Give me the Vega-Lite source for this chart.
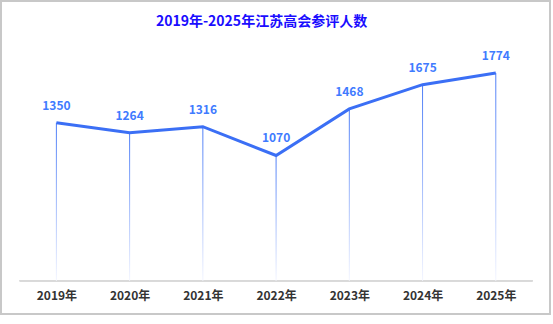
{
  "$schema": "https://vega.github.io/schema/vega-lite/v6.json",
  "autosize": {"type": "none"},
  "padding": {"left": 1, "top": 1, "right": 3, "bottom": 9},
  "width": 549,
  "height": 313,
  "background": "white",
  "title": {
    "text": "2019年-2025年江苏高会参评人数",
    "color": "#1a0dff",
    "font": "Noto Sans CJK SC",
    "fontSize": 14,
    "fontWeight": "bold",
    "anchor": "middle",
    "frame": "group",
    "offset": -28,
    "dx": -14
  },
  "data": {
    "values": [
      {"year": 2019, "count": 1350},
      {"year": 2020, "count": 1264},
      {"year": 2021, "count": 1316},
      {"year": 2022, "count": 1070},
      {"year": 2023, "count": 1468},
      {"year": 2024, "count": 1675},
      {"year": 2025, "count": 1774}
    ]
  },
  "encoding": {
    "x": {
      "field": "year",
      "type": "quantitative",
      "scale": {"domain": [2018.312, 2025.672], "nice": false, "zero": false},
      "axis": {
        "values": [2019, 2020, 2021, 2022, 2023, 2024, 2025],
        "labelExpr": "datum.value + '年'",
        "title": null,
        "grid": false,
        "domain": false,
        "ticks": false,
        "offset": -33,
        "labelPadding": 9,
        "labelFont": "Noto Sans CJK SC",
        "labelFontSize": 12,
        "labelFontWeight": "bold",
        "labelColor": "#333333",
        "labelFlush": false
      }
    },
    "y": {
      "field": "count",
      "type": "quantitative",
      "scale": {"domain": [-285, 2390], "nice": false, "zero": false},
      "axis": null
    }
  },
  "layer": [
    {
      "mark": {"type": "rule", "color": "#d9d9d9", "strokeWidth": 1.5},
      "encoding": {
        "x": {"datum": 2018.5, "type": "quantitative"},
        "x2": {"datum": 2025.5},
        "y": {"datum": 0, "type": "quantitative"}
      }
    },
    {
      "mark": {
        "type": "bar",
        "width": 1,
        "fill": {
          "gradient": "linear",
          "x1": 0, "y1": 0, "x2": 0, "y2": 1,
          "stops": [
            {"offset": 0, "color": "#4a7bf7"},
            {"offset": 1, "color": "#f4f6ff"}
          ]
        }
      },
      "encoding": {
        "y2": {"datum": 0}
      }
    },
    {
      "mark": {"type": "line", "color": "#3b6ff5", "strokeWidth": 3, "strokeJoin": "miter"}
    },
    {
      "mark": {
        "type": "text",
        "color": "#3f7bff",
        "font": "Noto Sans CJK SC",
        "fontSize": 12,
        "fontWeight": "bold",
        "baseline": "alphabetic",
        "dy": -13
      },
      "encoding": {
        "text": {"field": "count", "type": "quantitative"}
      }
    }
  ],
  "config": {
    "view": {"stroke": "#c8c8c8", "strokeWidth": 2}
  }
}
